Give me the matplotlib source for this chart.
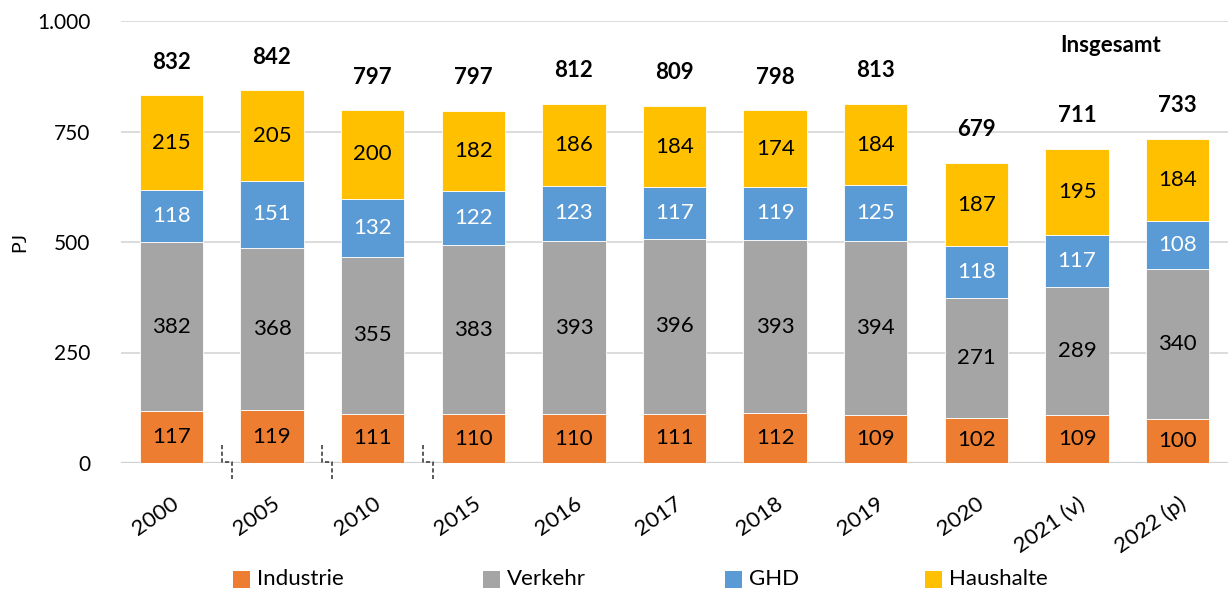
import matplotlib
matplotlib.use("Agg")
import matplotlib.pyplot as plt
from matplotlib.patches import Rectangle
import numpy as np

years = ["2000", "2005", "2010", "2015", "2016", "2017", "2018", "2019", "2020", "2021 (v)", "2022 (p)"]
industrie = [117, 119, 111, 110, 110, 111, 112, 109, 102, 109, 100]
verkehr = [382, 368, 355, 383, 393, 396, 393, 394, 271, 289, 340]
ghd = [118, 151, 132, 122, 123, 117, 119, 125, 118, 117, 108]
haushalte = [215, 205, 200, 182, 186, 184, 174, 184, 187, 195, 184]
totals = [832, 842, 797, 797, 812, 809, 798, 813, 679, 711, 733]
series_names = ["Industrie", "Verkehr", "GHD", "Haushalte"]
colors = ["#ED7D31", "#A5A5A5", "#5B9BD5", "#FFC000"]
label_colors = ["black", "black", "white", "black"]
yticks = [0, 250, 500, 750, 1000]
ytick_labels = ["0", "250", "500", "750", "1.000"]

plt.rcParams['font.family'] = ['Lato', 'DejaVu Sans']

W, H = 1230, 592
fig = plt.figure(figsize=(W/100, H/100), dpi=100)
ax = fig.add_axes([121/W, 1-463/H, (1228-121)/W, (463-21)/H])

x = np.arange(len(years))
bottom = np.zeros(len(years))
series = [industrie, verkehr, ghd, haushalte]
for vals, name, col, lc in zip(series, series_names, colors, label_colors):
    vals = np.array(vals, dtype=float)
    ax.bar(x, vals, 0.63, bottom=bottom, color=col, label=name, zorder=3,
           edgecolor="white", linewidth=0.6)
    for xi, b, v in zip(x, bottom, vals):
        ax.text(xi, b + v/2, f"{int(v)}", ha="center", va="center",
                fontsize=16, color=lc, zorder=4)
    bottom += vals

for xi, t in zip(x, totals):
    ax.text(xi, t + 75, f"{t}", ha="center", va="center", fontsize=16,
            fontweight="bold", color="black", zorder=4)

ax.text(9.33, 945, "Insgesamt", ha="center", va="center", fontsize=16,
        fontweight="bold", color="black")

ax.set_xlim(-0.5, len(years) - 0.5)
ax.set_ylim(0, 1000)
ax.set_yticks(yticks)
ax.set_yticklabels(ytick_labels, fontsize=15)
ax.set_xticks(x)
ax.set_xticklabels(years, fontsize=16, rotation=35, ha="right",
                   rotation_mode="anchor")
ax.tick_params(axis="both", length=0)
ax.tick_params(axis="x", pad=22)
ax.tick_params(axis="y", pad=22)
ax.grid(axis="y", color="#D9D9D9", linewidth=1.3, zorder=0)
for s in ["top", "right", "left", "bottom"]:
    ax.spines[s].set_visible(False)
ax.axhline(0, color="#D0D0D0", linewidth=1.6, zorder=2)
ax.set_ylabel("PJ", fontsize=14)
ax.yaxis.set_label_coords(-0.084, 0.5)

# axis break marks
for bx in [0.5, 1.5, 2.5]:
    ax.plot([bx, bx, bx + 0.1, bx + 0.1], [41, 2, 2, -36],
            color="#404040", linestyle=(0, (2.5, 1.5)), linewidth=1.2,
            clip_on=False, zorder=5)

# legend (manual placement, figure pixel coordinates)
leg_x = [233, 483, 725, 925]
leg_y = 579
sq = 17
for lx, name, col in zip(leg_x, series_names, colors):
    fig.patches.append(Rectangle((lx/W, (H-leg_y-sq/2)/H), sq/W, sq/H,
                                 transform=fig.transFigure, facecolor=col,
                                 edgecolor="none"))
    fig.text((lx + sq + 7)/W, (H-leg_y)/H, name, ha="left", va="center",
             fontsize=16, color="black")

fig.savefig("out.png", dpi=100)
